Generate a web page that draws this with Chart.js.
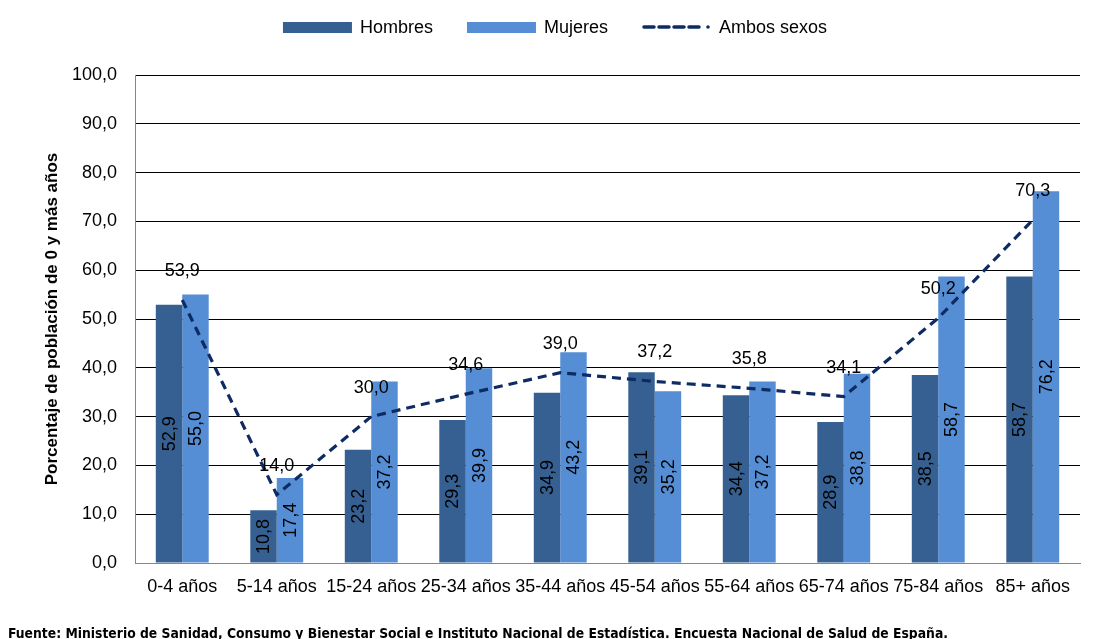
<!DOCTYPE html>
<html lang="es">
<head>
<meta charset="utf-8">
<title>Porcentaje de población por grupo de edad y sexo</title>
<script src="https://cdn.jsdelivr.net/npm/chart.js@4.4.1/dist/chart.umd.min.js"></script>
<style>
  html, body { margin: 0; padding: 0; background: #ffffff; }
  #wrap { position: relative; width: 1116px; height: 639px; overflow: hidden; }
  #chart { position: absolute; left: 0; top: 0; }
  #fuente {
    position: absolute; left: 8px; top: 626px;
    font-family: "DejaVu Sans Condensed", "DejaVu Sans", sans-serif;
    font-weight: bold; font-size: 14px; line-height: 14px; color: #000;
    white-space: nowrap; transform-origin: 0 0;
  }
</style>
</head>
<body>
<div id="wrap">
  <canvas id="chart" width="1116" height="639"></canvas>
  <div id="fuente">Fuente: Ministerio de Sanidad, Consumo y Bienestar Social e Instituto Nacional de Estadística. Encuesta Nacional de Salud de España.</div>
</div>
<script>
// Age groups
const categories = ['0-4 años', '5-14 años', '15-24 años', '25-34 años', '35-44 años',
                    '45-54 años', '55-64 años', '65-74 años', '75-84 años', '85+ años'];
// Percentages by sex
const hombres = [52.9, 10.8, 23.2, 29.3, 34.9, 39.1, 34.4, 28.9, 38.5, 58.7];
const mujeres = [55.0, 17.4, 37.2, 39.9, 43.2, 35.2, 37.2, 38.8, 58.7, 76.2];
const ambosSexos = [53.9, 14.0, 30.0, 34.6, 39.0, 37.2, 35.8, 34.1, 50.2, 70.3];
// Value axis
const yMin = 0;
const yMax = 100;
const yStep = 10;

const FONT = '"Liberation Sans", Arial, Helvetica, sans-serif';
const COL_H = '#376092';
const COL_M = '#558ED5';
const COL_A = '#0F2B64';

const fmt = v => v.toFixed(1).replace('.', ',');

// Value labels: rotated inside the bars, horizontal above the line points
const valueLabels = {
  id: 'valueLabels',
  afterDatasetsDraw(chart) {
    const ctx = chart.ctx;
    ctx.save();
    ctx.font = '18px ' + FONT;
    ctx.fillStyle = '#000';
    ctx.textAlign = 'center';
    ctx.textBaseline = 'middle';
    chart.data.datasets.forEach((ds, i) => {
      const meta = chart.getDatasetMeta(i);
      if (meta.hidden) return;
      meta.data.forEach((el, j) => {
        const v = ds.data[j];
        if (ds.type === 'line') {
          ctx.fillText(fmt(v), el.x, el.y - 29);
        } else {
          const p = el.getProps(['x', 'y', 'base'], true);
          ctx.save();
          ctx.translate(p.x, (p.y + p.base) / 2);
          ctx.rotate(-Math.PI / 2);
          ctx.fillText(fmt(v), 0, 1);
          ctx.restore();
        }
      });
    });
    ctx.restore();
  }
};

// Legend row across the top
const topLegend = {
  id: 'topLegend',
  afterDraw(chart) {
    const ctx = chart.ctx;
    ctx.save();
    ctx.font = '18px ' + FONT;
    const sw = 69, gapText = 8, gapItem = 34, cy = 27;
    const items = chart.data.datasets.map(ds => ({ ds, w: ctx.measureText(ds.label).width }));
    const total = items.reduce((s, it) => s + sw + gapText + it.w, 0) + gapItem * (items.length - 1);
    let x = chart.width / 2 - total / 2 - 3;
    items.forEach(({ ds, w }) => {
      if (ds.type === 'line') {
        ctx.strokeStyle = ds.borderColor;
        ctx.lineWidth = 3.5;
        ctx.lineCap = 'round';
        ctx.setLineDash([10, 5]);
        ctx.beginPath();
        ctx.moveTo(x + 2, cy);
        ctx.lineTo(x + sw - 11, cy);
        ctx.stroke();
        ctx.setLineDash([]);
        ctx.fillStyle = ds.borderColor;
        ctx.beginPath();
        ctx.arc(x + sw - 3, cy, 1.8, 0, Math.PI * 2);
        ctx.fill();
      } else {
        ctx.fillStyle = ds.backgroundColor;
        ctx.fillRect(x, cy - 5, sw, 11);
      }
      ctx.fillStyle = '#000';
      ctx.textAlign = 'left';
      ctx.textBaseline = 'middle';
      ctx.fillText(ds.label, x + sw + gapText, cy + 1);
      x += sw + gapText + w + gapItem;
    });
    ctx.restore();
  }
};

new Chart(document.getElementById('chart'), {
  data: {
    labels: categories,
    datasets: [
      { type: 'bar', label: 'Hombres', data: hombres, backgroundColor: COL_H, order: 1 },
      { type: 'bar', label: 'Mujeres', data: mujeres, backgroundColor: COL_M, order: 1 },
      { type: 'line', label: 'Ambos sexos', data: ambosSexos, borderColor: COL_A,
        borderWidth: 3.2, borderDash: [9, 6], pointRadius: 0, fill: false, tension: 0, order: 0 }
    ]
  },
  options: {
    responsive: false,
    animation: false,
    devicePixelRatio: 1,
    layout: { padding: { left: 40, right: 36, top: 75, bottom: 36 } },
    plugins: { legend: { display: false }, tooltip: { enabled: false } },
    datasets: { bar: { categoryPercentage: 0.56, barPercentage: 1.0 } },
    scales: {
      x: {
        offset: true,
        grid: { display: false, drawTicks: false },
        border: { display: true, color: '#868686', width: 1 },
        ticks: { color: '#000', font: { family: FONT, size: 18 }, padding: 13,
                 maxRotation: 0, minRotation: 0, autoSkip: false },
        afterFit(s) { s.height = 40; }
      },
      y: {
        min: yMin, max: yMax,
        grid: { color: ctx => (ctx.tick && ctx.tick.value === yMin) ? 'rgba(0,0,0,0)' : '#000',
                lineWidth: 1, drawTicks: false },
        border: { display: true, color: '#868686', width: 1 },
        ticks: { stepSize: yStep, color: '#000', font: { family: FONT, size: 18 }, padding: 18,
                 callback: v => fmt(v) },
        title: { display: true, text: 'Porcentaje de población de 0 y más años', color: '#000',
                 font: { family: FONT, size: 17, weight: 'bold' }, padding: { top: 2, bottom: 4 } },
        afterFit(s) { s.width = 95; }
      }
    }
  },
  plugins: [valueLabels, topLegend]
});

// Fit the source line to its printed width
const f = document.getElementById('fuente');
const fw = f.getBoundingClientRect().width;
if (fw > 0) f.style.transform = 'scaleX(' + (940 / fw) + ')';
</script>
</body>
</html>
